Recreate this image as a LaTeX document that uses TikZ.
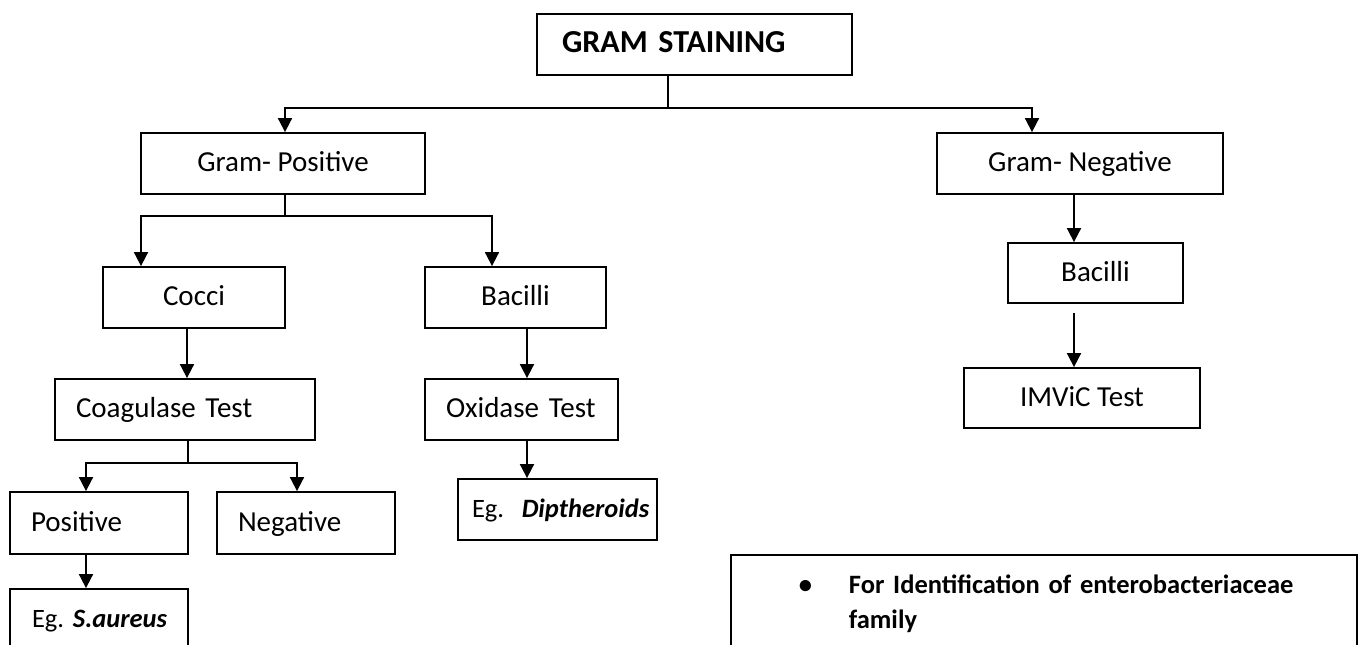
\documentclass[tikz,border=0pt]{standalone}
\usepackage{fontspec}
\setmainfont{Carlito}
\usetikzlibrary{arrows.meta}
\frenchspacing
\begin{document}
\begin{tikzpicture}[x=1pt,y=-1pt,line width=1.8pt,
  main node/.style={draw,rectangle,inner sep=0pt,minimum height=61pt,text height=22pt,text depth=6pt,font=\fontsize{29}{35}\selectfont},
  left node/.style={main node,inner xsep=21pt,execute at begin node={\parindent=0pt}},
  eg node/.style={left node,inner xsep=22pt,font=\fontsize{26.5}{35}\selectfont},
  arr/.style={-{Triangle[width=14pt,length=14pt]}}]

  \useasboundingbox (0,0) rectangle (1360,645);
  \clip (0,0) rectangle (1360,645);

  \node[left node,inner xsep=25pt,text width=265pt,font=\bfseries\fontsize{32}{35}\selectfont] (gs) at (694.5,44.5) {GRAM STAINING};
  \node[main node,minimum width=284pt] (gp) at (283,163.5) {Gram- Positive};
  \node[main node,minimum width=286pt] (gn) at (1080,163.5) {Gram- Negative};
  \node[main node,minimum width=182pt] (cocci) at (194,297.5) {Cocci};
  \node[main node,minimum width=181pt] (bac1) at (515.5,297.5) {Bacilli};
  \node[main node,minimum width=175pt,minimum height=60pt] (bac2) at (1095.5,273) {Bacilli};
  \node[left node,text width=218pt] (coag) at (185,409.5) {Coagulase Test};
  \node[left node,text width=151pt] (oxi) at (521.5,409.5) {Oxidase Test};
  \node[main node,minimum width=236pt,minimum height=60pt] (imvic) at (1082,398) {IMViC Test};
  \node[left node,text width=136pt,minimum height=62pt] (pos) at (99,523) {Positive};
  \node[left node,text width=136pt,minimum height=62pt] (neg) at (306,523) {Negative};
  \node[eg node,inner xsep=14pt,text width=171pt] (dip) at (557.5,509.5) {\makebox[171pt][l]{Eg.\ \ \textbf{\textit{Diptheroids}}}};
  \node[eg node,text width=134pt] (aur) at (99,619.5) {\mbox{Eg. \textbf{\textit{S.aureus}}}};
  \node[draw,anchor=north west,inner xsep=68pt,inner ysep=20pt,text width=490pt,
    execute at begin node={\parindent=0pt},
    font=\bfseries\fontsize{26.5}{35}\selectfont] (note) at (730,554)
    {\mbox{\makebox[50pt][l]{\textbullet}For Identification of enterobacteriaceae}\\\hspace*{50pt}family};

  % gram staining split
  \coordinate (j0) at (668,108);
  \draw (gs.south -| j0) -- (j0);
  \draw[arr] (j0) -| ([xshift=2pt]gp.north);
  \draw[arr] (j0) -| ([xshift=-48pt]gn.north);

  % positive side
  \coordinate (j1) at (285,216);
  \draw (gp.south -| j1) -- (j1);
  \draw[arr] (j1) -| ([xshift=-53pt]cocci.north);
  \draw[arr] (j1) -| ([xshift=-23.5pt]bac1.north);
  \draw[arr] ([xshift=-7pt]cocci.south) -- ([xshift=-7pt]cocci.south |- coag.north);
  \draw[arr] ([xshift=11.5pt]bac1.south) -- ([xshift=11.5pt]bac1.south |- oxi.north);
  \draw[arr] ([xshift=5.5pt]oxi.south) -- ([xshift=5.5pt]oxi.south |- dip.north);
  \coordinate (j2) at (188,463);
  \draw (coag.south -| j2) -- (j2);
  \draw[arr] (j2) -| ([xshift=-13pt]pos.north);
  \draw[arr] (j2) -| ([xshift=-9pt]neg.north);
  \draw[arr] ([xshift=-13pt]pos.south) -- ([xshift=-13pt]aur.north);

  % negative side
  \draw[arr] ([xshift=-6pt]gn.south) -- ([xshift=-6pt]gn.south |- bac2.north);
  \coordinate (g0) at (1074,313);
  \draw[arr] (g0) -- (g0 |- imvic.north);
\end{tikzpicture}
\end{document}
